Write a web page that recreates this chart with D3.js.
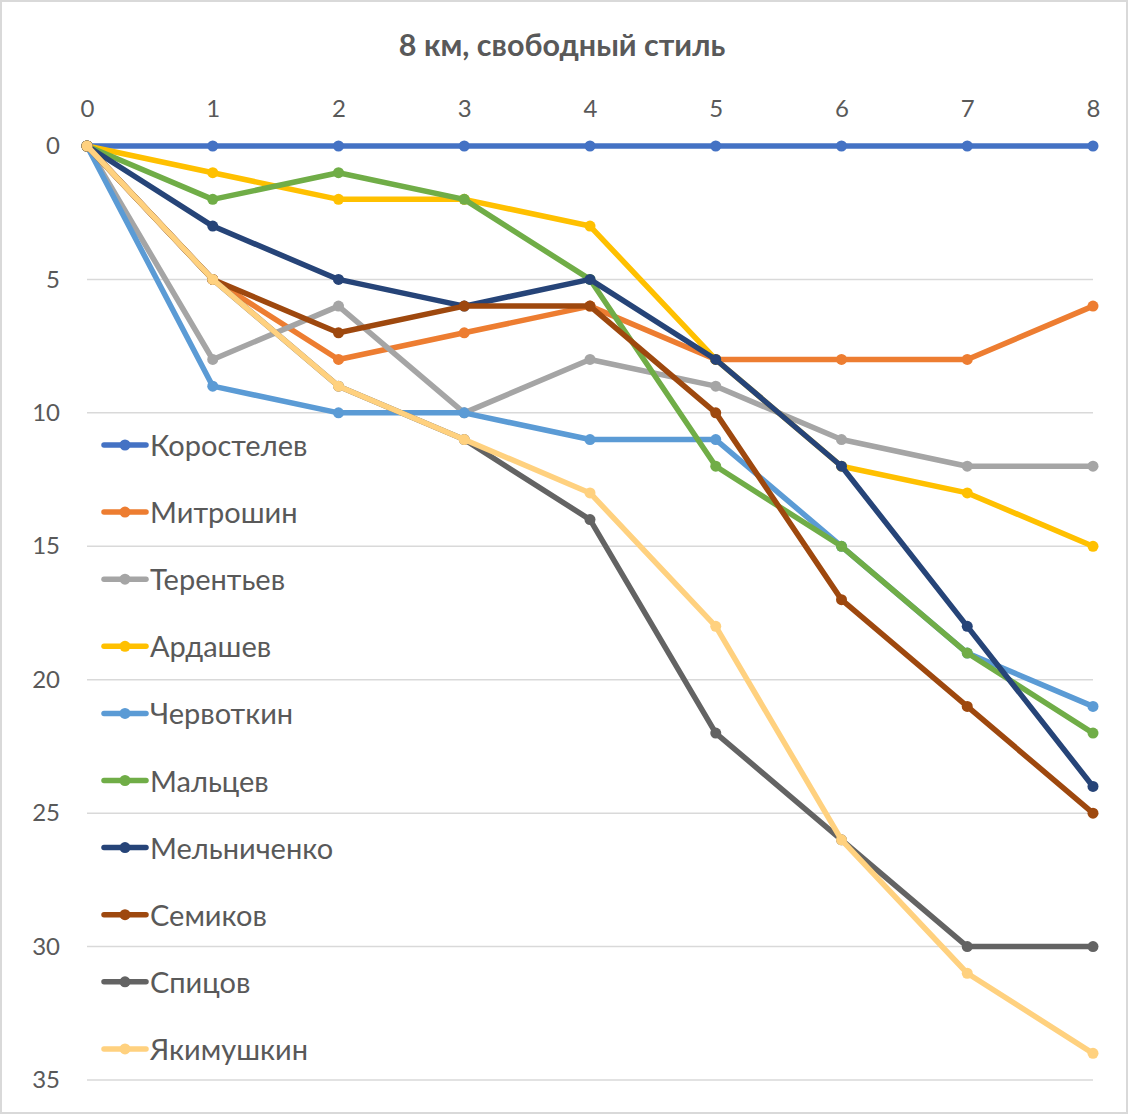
<!DOCTYPE html>
<html><head><meta charset="utf-8">
<script src="https://cdn.jsdelivr.net/npm/d3@7"></script>
<style>body{margin:0;background:#fff}svg{display:block}</style>
</head><body>
<svg id="c" width="1128" height="1114"></svg>
<script>
const title = "8 км, свободный стиль";
const xTicks = [0,1,2,3,4,5,6,7,8];
const yTicks = [0,5,10,15,20,25,30,35];
const names = ["Коростелев","Митрошин","Терентьев","Ардашев","Червоткин","Мальцев","Мельниченко","Семиков","Спицов","Якимушкин"];
const colors = ["#4472C4","#ED7D31","#A5A5A5","#FFC000","#5B9BD5","#70AD47","#264478","#9E480E","#636363","#FFD17F"];
const sKorostelev = [0,0,0,0,0,0,0,0,0];
const sMitroshin  = [0,5,8,7,6,8,8,8,6];
const sTerentiev  = [0,8,6,10,8,9,11,12,12];
const sArdashev   = [0,1,2,2,3,8,12,13,15];
const sChervotkin = [0,9,10,10,11,11,15,19,21];
const sMaltsev    = [0,2,1,2,5,12,15,19,22];
const sMelnichenko= [0,3,5,6,5,8,12,18,24];
const sSemikov    = [0,5,7,6,6,10,17,21,25];
const sSpitsov    = [0,5,9,11,14,22,26,30,30];
const sYakimushkin= [0,5,9,11,13,18,26,31,34];
const series = [sKorostelev,sMitroshin,sTerentiev,sArdashev,sChervotkin,sMaltsev,sMelnichenko,sSemikov,sSpitsov,sYakimushkin];

const svg = d3.select("#c");
const font = "Lato, 'Open Sans', sans-serif";
svg.append("rect").attr("x",1).attr("y",1).attr("width",1126).attr("height",1112)
  .attr("fill","#fff").attr("stroke","#d9d9d9").attr("stroke-width",2);

const x = d3.scaleLinear().domain([0,8]).range([87,1093]);
const y = d3.scaleLinear().domain([0,35]).range([146,1080]);

// gridlines
svg.append("g").selectAll("line").data(yTicks).join("line")
  .attr("x1",87).attr("x2",1093).attr("y1",d=>y(d)).attr("y2",d=>y(d))
  .attr("stroke","#d9d9d9").attr("stroke-width",1.5);

// top axis
const xa = svg.append("g").attr("transform","translate(0,117)")
  .call(d3.axisTop(x).tickValues(xTicks).tickSize(0).tickPadding(0).tickFormat(d3.format("d")));
xa.select(".domain").remove();
xa.selectAll("text").attr("fill","#595959").attr("font-size",24).attr("font-family",font).attr("dy",0);

// left axis
const ya = svg.append("g").attr("transform","translate(60,0)")
  .call(d3.axisLeft(y).tickValues(yTicks).tickSize(0).tickPadding(0).tickFormat(d3.format("d")));
ya.select(".domain").remove();
ya.selectAll("text").attr("fill","#595959").attr("font-size",24).attr("font-family",font);

// title
svg.append("text").attr("x",562).attr("y",56).attr("text-anchor","middle")
  .attr("font-family",font).attr("font-weight","bold").attr("font-size",30.5)
  .attr("fill","#595959").text(title);

const line = d3.line().x((d,i)=>x(xTicks[i])).y(d=>y(d));
series.forEach((s,k)=>{
  const g = svg.append("g");
  g.append("path").attr("d",line(s)).attr("fill","none").attr("stroke",colors[k])
    .attr("stroke-width",5.5).attr("stroke-linejoin","round").attr("stroke-linecap","round");
  g.selectAll("circle").data(s).join("circle")
    .attr("cx",(d,i)=>x(xTicks[i])).attr("cy",d=>y(d)).attr("r",5.5).attr("fill",colors[k]);
});

// legend
const lg = svg.append("g");
names.forEach((n,k)=>{
  const cy = 445 + k*67.1;
  lg.append("line").attr("x1",104).attr("x2",146).attr("y1",cy).attr("y2",cy)
    .attr("stroke",colors[k]).attr("stroke-width",5.5).attr("stroke-linecap","round");
  lg.append("circle").attr("cx",125).attr("cy",cy).attr("r",5.5).attr("fill",colors[k]);
  lg.append("text").attr("x",150).attr("y",cy+11).attr("font-family",font)
    .attr("font-size",29).attr("fill","#595959").text(n);
});
</script>
</body></html>
